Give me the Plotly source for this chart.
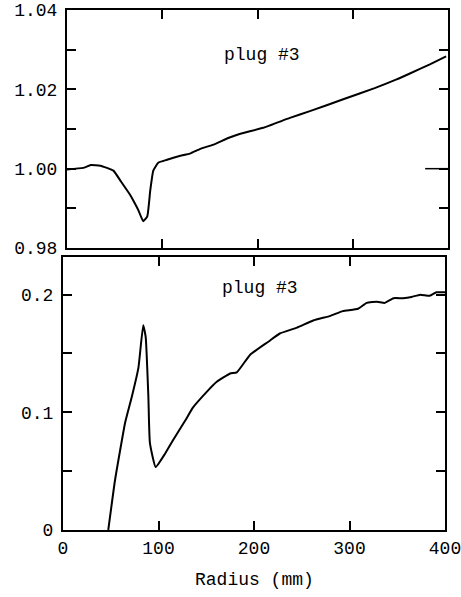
import plotly.graph_objects as go

# Top panel: ratio vs radius
top_r = [0, 17, 25, 35, 48.7, 56, 66, 69.6, 75, 80, 84.3, 87.4, 90.6, 95.8, 105, 119, 129, 140,
         153, 170, 182, 206, 234, 255, 290, 323, 346, 360, 381, 398]
top_v = [0.9998, 1.0002, 1.0009, 1.00075, 0.9995, 0.9970, 0.9935, 0.9920, 0.9895, 0.98675,
         0.9880, 0.9945, 0.9995, 1.0015, 1.00225, 1.00325, 1.0038, 1.0050, 1.0060, 1.0078,
         1.0088, 1.0103, 1.0128, 1.0145, 1.0175, 1.0203, 1.0225, 1.0240, 1.0263, 1.0283]

# Bottom panel
bot_r = [47.4, 54.5, 65, 72, 79, 84, 86.6, 89.4, 91, 97, 107, 115, 128, 136, 150, 161, 175,
         182, 196, 215, 227, 245, 262, 280, 293, 309, 318, 329, 337, 346, 356, 365,
         374, 384, 391, 400]
bot_v = [0.0, 0.0425, 0.091, 0.113, 0.138, 0.174, 0.164, 0.113, 0.074, 0.0535, 0.065, 0.076,
         0.093, 0.104, 0.117, 0.126, 0.133, 0.134, 0.149, 0.160, 0.167, 0.172,
         0.178, 0.182, 0.186, 0.188, 0.193, 0.194, 0.193, 0.197, 0.197, 0.198, 0.200, 0.199,
         0.202, 0.202]

top_ticks = [0.98, 0.99, 1.00, 1.01, 1.02, 1.03, 1.04]
top_ticktext = ["0.98", "", "1.00", "", "1.02", "", "1.04"]
bot_ticks = [0, 0.05, 0.1, 0.15, 0.2]
bot_ticktext = ["0", "", "0.1", "", "0.2"]
x_ticks = [0, 100, 200, 300, 400]
x_ticktext = ["0", "100", "200", "300", "400"]

W, H = 461, 597
FONT = "Liberation Mono"

fig = go.Figure()
fig.add_trace(go.Scatter(x=top_r, y=top_v, mode="lines",
                         line=dict(color="black", width=2, shape="spline", smoothing=0.4),
                         xaxis="x", yaxis="y", showlegend=False))
fig.add_trace(go.Scatter(x=bot_r, y=bot_v, mode="lines",
                         line=dict(color="black", width=2, shape="spline", smoothing=0.4),
                         xaxis="x2", yaxis="y2", showlegend=False))

axis_common = dict(showline=True, linecolor="black", linewidth=2, ticks="inside", ticklen=9,
                   tickwidth=1.5, tickcolor="black", mirror="ticks", showgrid=False, zeroline=False,
                   automargin=False, ticklabeloverflow="allow",
                   tickfont=dict(family=FONT, size=18, color="black"))

fig.update_layout(
    width=W, height=H, margin=dict(l=0, r=0, t=0, b=0),
    paper_bgcolor="white", plot_bgcolor="white", template="none",
    xaxis=dict(domain=[67 / W, 448 / W], anchor="y", range=[0, 400], tickvals=x_ticks,
               showticklabels=False, **axis_common),
    yaxis=dict(domain=[1 - 248 / H, 1 - 10 / H], anchor="x", range=[0.98, 1.04],
               tickvals=top_ticks, ticktext=top_ticktext, ticklabelstandoff=4, **axis_common),
    xaxis2=dict(domain=[63 / W, 445 / W], anchor="y2", range=[0, 400], tickvals=x_ticks,
                ticktext=x_ticktext, ticklabelstandoff=0, **axis_common),
    yaxis2=dict(domain=[1 - 530 / H, 1 - 257 / H], anchor="x2", range=[0, 0.232],
                tickvals=bot_ticks, ticktext=bot_ticktext, ticklabelstandoff=4, **axis_common),
)

fig.add_annotation(text="plug #3", xref="paper", yref="paper", x=262 / W, y=1 - 55 / H,
                   xanchor="center", yanchor="middle",
                   showarrow=False, font=dict(family=FONT, size=18, color="black"))
fig.add_annotation(text="plug #3", xref="paper", yref="paper", x=260 / W, y=1 - 288 / H,
                   xanchor="center", yanchor="middle",
                   showarrow=False, font=dict(family=FONT, size=18, color="black"))
fig.add_annotation(text="Radius (mm)", xref="paper", yref="paper", x=254 / W, y=1 - 580 / H,
                   xanchor="center", yanchor="middle",
                   showarrow=False, font=dict(family=FONT, size=18, color="black"))

# longer reference tick at 1.00 on right edge of top panel
fig.add_shape(type="line", xref="x domain", yref="y", x0=0.94, x1=1.0, y0=1.0, y1=1.0,
              line=dict(color="black", width=1.5))

fig.write_html("out.html")
